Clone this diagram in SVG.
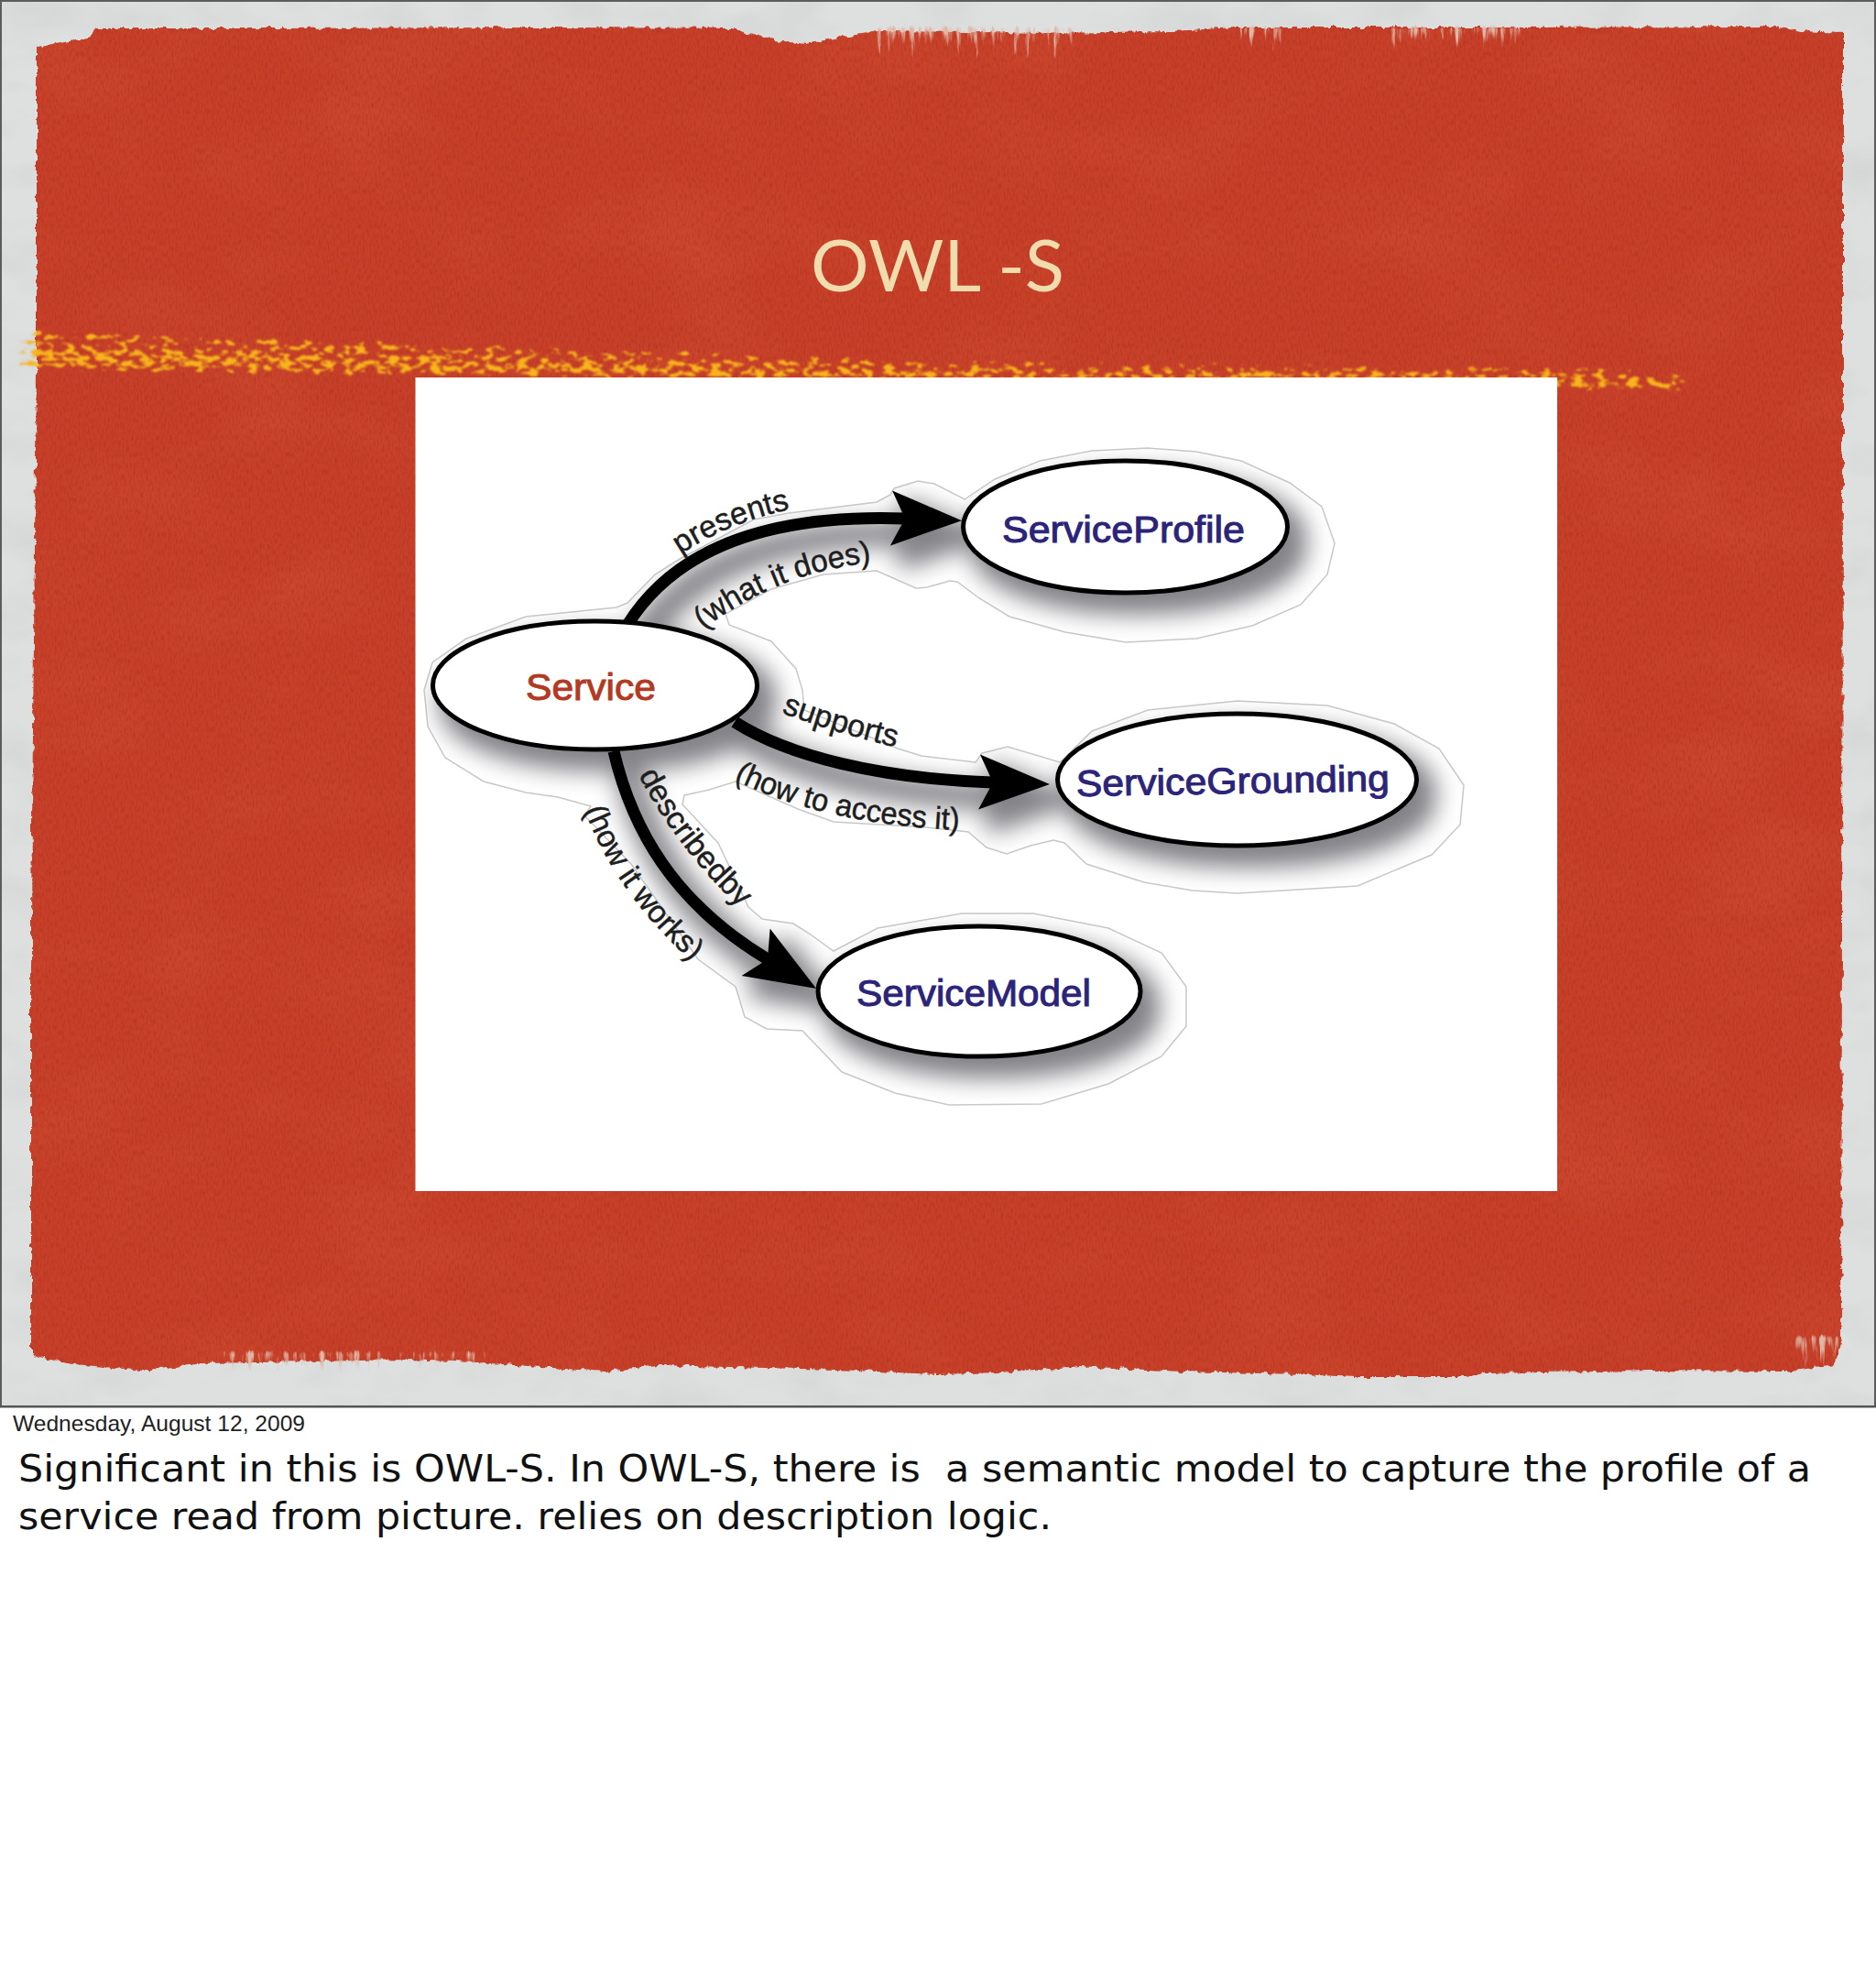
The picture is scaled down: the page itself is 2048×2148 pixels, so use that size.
<svg xmlns="http://www.w3.org/2000/svg" xmlns:xlink="http://www.w3.org/1999/xlink" width="2048" height="2148" viewBox="0 0 2048 2148">
<style>
.node{fill:#fff;stroke:#000;stroke-width:5}
.nl{font-family:"Liberation Sans",Arial,sans-serif;font-size:40px;stroke-width:1;paint-order:stroke}
.blue{fill:#2b2478;stroke:#2b2478}
.red{fill:#b23a25;stroke:#b23a25}
.el{font-family:"Liberation Sans",Arial,sans-serif;font-size:34px;fill:#1e1e1e;stroke:#1e1e1e;stroke-width:.5}
.edge{fill:none;stroke:#000;stroke-width:13;marker-end:url(#head)}
</style>
<defs>
<marker id="head" markerUnits="userSpaceOnUse" markerWidth="80" markerHeight="64" refX="15" refY="32" orient="auto"><path d="M0,2 L77,32 L0,62 L15,32Z" fill="#000"/></marker>
<linearGradient id="fadeDown" x1="0" x2="0" y1="0" y2="1"><stop offset="0" stop-color="#000" stop-opacity=".98"/><stop offset="1" stop-color="#000" stop-opacity=".6"/></linearGradient>
<linearGradient id="bandFade" gradientUnits="userSpaceOnUse" x1="15" x2="1845" y1="0" y2="0"><stop offset="0" stop-color="#000" stop-opacity="1"/><stop offset=".35" stop-color="#000" stop-opacity="1"/><stop offset=".65" stop-color="#000" stop-opacity=".9"/><stop offset="1" stop-color="#000" stop-opacity=".92"/></linearGradient>
<filter id="paper" x="0" y="0" width="1" height="1" color-interpolation-filters="sRGB">
<feTurbulence type="fractalNoise" baseFrequency=".012 .02" numOctaves="4" seed="5"/>
<feColorMatrix type="matrix" values="0 0 0 0 .7 0 0 0 0 .7 0 0 0 0 .7 .4 0 0 0 -.17" result="m"/>
<feComposite in="m" in2="SourceGraphic" operator="atop"/>
</filter>
<filter id="paint" x="-2%" y="-2%" width="104%" height="104%" color-interpolation-filters="sRGB">
<feTurbulence type="fractalNoise" baseFrequency=".13 .09" numOctaves="4" seed="3" result="t1"/>
<feDisplacementMap in="SourceGraphic" in2="t1" scale="7" xChannelSelector="R" yChannelSelector="G" result="d"/>
<feTurbulence type="fractalNoise" baseFrequency=".5 .16" numOctaves="3" seed="8" result="t2"/>
<feColorMatrix in="t2" type="matrix" values="0 0 0 0 .64 0 0 0 0 .16 0 0 0 0 .08 .9 0 0 0 -.38" result="dk"/>
<feComposite in="dk" in2="d" operator="in" result="dkIn"/>
<feTurbulence type="fractalNoise" baseFrequency=".006 .01" numOctaves="3" seed="12" result="t3"/>
<feColorMatrix in="t3" type="matrix" values="0 0 0 0 .84 0 0 0 0 .33 0 0 0 0 .21 .7 0 0 0 -.28" result="lt"/>
<feComposite in="lt" in2="d" operator="in" result="ltIn"/>
<feMerge><feMergeNode in="d"/><feMergeNode in="ltIn"/><feMergeNode in="dkIn"/></feMerge>
</filter>
<filter id="speck" x="-2%" y="-10%" width="104%" height="120%" color-interpolation-filters="sRGB">
<feTurbulence type="fractalNoise" baseFrequency=".085 .17" numOctaves="3" seed="21"/>
<feColorMatrix type="matrix" values="0 0 0 0 0 0 0 0 0 0 0 0 0 0 0 1 0 0 0 0" result="n"/>
<feGaussianBlur in="SourceAlpha" stdDeviation="5 4" result="b"/>
<feComposite in="n" in2="b" operator="arithmetic" k1="0" k2="1" k3="1" k4="-1" result="s"/>
<feComponentTransfer in="s" result="th"><feFuncA type="linear" slope="10" intercept="-4.55"/></feComponentTransfer>
<feFlood flood-color="#f7b41c"/>
<feComposite in2="th" operator="in" result="y"/>
<feGaussianBlur in="y" stdDeviation=".8"/>
</filter>
<filter id="fray" x="0" y="0" width="1" height="1" color-interpolation-filters="sRGB">
<feTurbulence type="fractalNoise" baseFrequency=".16 .02" numOctaves="4" seed="33"/>
<feColorMatrix type="matrix" values="0 0 0 0 0 0 0 0 0 0 0 0 0 0 0 1 0 0 0 0" result="n"/>
<feGaussianBlur in="SourceAlpha" stdDeviation="3" result="b"/>
<feComposite in="n" in2="b" operator="arithmetic" k1="0" k2="1" k3="1" k4="-1" result="s"/>
<feComponentTransfer in="s" result="th"><feFuncA type="linear" slope="4" intercept="-1.45"/></feComponentTransfer>
<feFlood flood-color="#e0b8a8"/>
<feComposite in2="th" operator="in"/>
</filter>
<filter id="soft" x="-20%" y="-20%" width="140%" height="140%" color-interpolation-filters="sRGB">
<feMorphology in="SourceAlpha" operator="dilate" radius="7"/>
<feOffset dx="14" dy="17"/>
<feGaussianBlur stdDeviation="13" result="b"/>
<feFlood flood-color="#828287"/>
<feComposite in2="b" operator="in"/>
</filter>
<clipPath id="haloClip"><path id="haloP" d="M463,753 L472,723 L509,697 L574,673 L673,663 L685,658 L715,627 L742,610 L823,567 L861,560 L957,548 L972,540 L976,533 L1002,525 L1020,528 L1053,545 L1086,523 L1135,503 L1192,492 L1253,489 L1306,493 L1355,503 L1408,527 L1443,553 L1457,593 L1449,627 L1420,660 L1367,683 L1306,697 L1229,701 L1163,690 L1102,673 L1069,653 L1045,635 L1037,634 L1012,641 L1000,642 L957,623 L899,627 L842,643 L792,670 L796,682 L842,700 L869,730 L876,753 L878,775 L980,817 L1006,825 L1065,832 L1072,822 L1100,815 L1127,823 L1157,832 L1192,798 L1253,775 L1351,765 L1449,770 L1522,790 L1571,817 L1598,857 L1594,900 L1563,933 L1482,967 L1351,975 L1302,972 L1249,963 L1186,943 L1162,920 L1150,917 L1125,923 L1099,932 L1077,925 L1057,908 L1011,903 L910,897 L871,883 L803,853 L774,862 L747,868 L745,878 L784,920 L817,990 L832,1003 L866,1008 L885,1020 L910,1038 L958,1013 L1050,997 L1128,997 L1210,1013 L1268,1040 L1295,1077 L1295,1120 L1268,1153 L1210,1183 L1137,1205 L1036,1206 L977,1193 L919,1170 L876,1125 L837,1123 L813,1110 L803,1077 L762,1047 L689,943 L638,890 L645,880 L609,870 L574,865 L528,853 L486,827 L467,793 Z"/></clipPath>
<g id="edgeShapes">
<path class="edge" d="M685,682 C730,610 820,560 988,566"/>
<path class="edge" d="M802,788 C860,825 960,850 1084,854"/>
<path class="edge" d="M670,820 C690,905 735,985 838,1047"/>
</g>
<g id="ellShapes">
<ellipse cx="649.5" cy="748" rx="177" ry="70"/>
<ellipse cx="1228.5" cy="575" rx="177" ry="72"/>
<ellipse cx="1350.5" cy="851" rx="196" ry="72"/>
<ellipse cx="1069" cy="1082" rx="176" ry="71"/>
</g>
<path id="pPresents" d="M743,605 Q795,570 867,555 L900,548"/>
<path id="pDoes" d="M768,687 Q846,626 950,614 L990,610"/>
<path id="pSupports" d="M853,778 Q912,800 980,816 L1010,823"/>
<path id="pAccess" d="M801,851 Q900,900 1050,906 L1090,907"/>
<path id="pDesc" d="M697,846 Q738,925 810,993 L830,1012"/>
<path id="pWorks" d="M638,884 Q672,975 756,1050 L785,1076"/>
</defs>

<rect width="2048" height="2148" fill="#fff"/>
<g id="slide-background">
<rect x="0" y="0" width="2048" height="1536" fill="#dedfdf" filter="url(#paper)"/>
<path fill="#c7402a" filter="url(#paint)" d="M40,52 L70,46 L95,42 L105,31 L300,31 L600,30 L800,31 L815,36 L845,44 L880,48 L920,40 L959,34 L1150,36 L1280,34 L1349,30 L1650,30 L1938,29 L1965,34 L2012,36 L2012,500 L2011,1000 L2010,1462 L2003,1490 L1950,1497 L1800,1496 L1620,1499 L1600,1503 L1480,1503 L1424,1500 L1290,1497 L1180,1491 L1090,1498 L1024,1500 L914,1495 L718,1490 L660,1497 L522,1487 L444,1484 L222,1488 L157,1496 L72,1488 L34,1478 L34,1300 L34,1000 L37,700 L40,400 Z"/>
<rect x="950" y="26" width="225" height="44" fill="url(#fadeDown)" filter="url(#fray)"/>
<rect x="1345" y="26" width="60" height="40" fill="url(#fadeDown)" filter="url(#fray)"/>
<rect x="1515" y="26" width="160" height="36" fill="url(#fadeDown)" filter="url(#fray)"/>
<rect x="240" y="1472" width="295" height="30" fill="url(#fadeDown)" filter="url(#fray)"/>
<rect x="1955" y="1455" width="58" height="44" fill="url(#fadeDown)" filter="url(#fray)"/>
<g filter="url(#speck)">
<path fill="url(#bandFade)" fill-opacity=".9" d="M15,356 L500,372 L1000,388 L1700,396 L1838,400 L1838,432 L1700,430 L1000,420 L500,414 L15,408 Z"/>
<path fill="url(#bandFade)" d="M30,382 L500,392 L1000,402 L1700,406 L1845,410 L1845,426 L1700,424 L1000,416 L500,410 L30,404 Z"/>
</g>
<rect x="1" y="1" width="2046" height="1534" fill="none" stroke="#5c5c5c" stroke-width="2"/>
<rect x="0" y="1534" width="2048" height="2.5" fill="#555"/>
</g>

<text id="title" x="885" y="318" font-family="Lato,'Liberation Sans',sans-serif" font-size="78" fill="#f0dcac" textLength="277" lengthAdjust="spacingAndGlyphs">OWL -S</text>

<g id="figure">
<rect x="453.500" y="412" width="1246.500" height="888" fill="#fff"/>
<use href="#haloP" fill="#fff" stroke="#c8c8c8" stroke-width="1.500"/>
<g clip-path="url(#haloClip)">
<g filter="url(#soft)"><use href="#edgeShapes"/><use href="#ellShapes"/></g>
</g>
<g id="connectors">
<use href="#edgeShapes"/>
<text class="el"><textPath href="#pPresents" textLength="130" lengthAdjust="spacingAndGlyphs">presents</textPath></text>
<text class="el"><textPath href="#pDoes" textLength="200" lengthAdjust="spacingAndGlyphs">(what it does)</textPath></text>
<text class="el"><textPath href="#pSupports">supports</textPath></text>
<text class="el"><textPath href="#pAccess" textLength="254" lengthAdjust="spacingAndGlyphs">(how to access it)</textPath></text>
<text class="el"><textPath href="#pDesc">describedby</textPath></text>
<text class="el"><textPath href="#pWorks" textLength="205" lengthAdjust="spacingAndGlyphs">(how it works)</textPath></text>
</g>
<g id="node-service"><ellipse class="node" cx="649.5" cy="748" rx="177" ry="70"/><text class="nl red" x="574" y="764" textLength="142" lengthAdjust="spacingAndGlyphs">Service</text></g>
<g id="node-serviceprofile"><ellipse class="node" cx="1228.5" cy="575" rx="177" ry="72"/><text class="nl blue" x="1094" y="592" textLength="265" lengthAdjust="spacingAndGlyphs">ServiceProfile</text></g>
<g id="node-servicegrounding"><ellipse class="node" cx="1350.5" cy="851" rx="196" ry="72"/><text class="nl blue" x="1175" y="869" textLength="342" lengthAdjust="spacingAndGlyphs" transform="rotate(-1 1175 869)">ServiceGrounding</text></g>
<g id="node-servicemodel"><ellipse class="node" cx="1069" cy="1082" rx="176" ry="71"/><text class="nl blue" x="935" y="1098" textLength="256" lengthAdjust="spacingAndGlyphs">ServiceModel</text></g>
</g>

<g id="notes">
<text x="14" y="1562" font-family="'Liberation Sans',Arial,sans-serif" font-size="24" fill="#222" textLength="319" lengthAdjust="spacingAndGlyphs">Wednesday, August 12, 2009</text>
<text x="20" y="1617" font-family="'DejaVu Sans',sans-serif" font-size="41" fill="#111" textLength="1957" lengthAdjust="spacingAndGlyphs" style="white-space:pre">Significant in this is OWL-S. In OWL-S, there is  a semantic model to capture the profile of a</text>
<text x="20" y="1669" font-family="'DejaVu Sans',sans-serif" font-size="41" fill="#111" textLength="1128" lengthAdjust="spacingAndGlyphs">service read from picture. relies on description logic.</text>
</g>
</svg>
